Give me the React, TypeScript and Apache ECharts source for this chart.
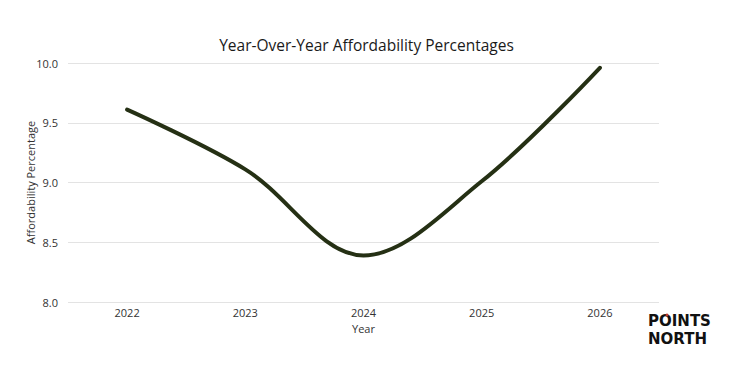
import React, { useEffect, useRef } from "react";
import * as echarts from "echarts";

const years = ["2022", "2023", "2024", "2025", "2026"];
const affordability = [9.61, 9.11, 8.39, 9.01, 9.96];
const yTicks = { min: 8, max: 10, interval: 0.5 };

export default function App() {
  const ref = useRef<HTMLDivElement>(null);
  useEffect(() => {
    const chart = echarts.init(ref.current!, null, { renderer: "svg" });
    const font = "Open Sans";
    chart.setOption({
      animation: false,
      backgroundColor: "#ffffff",
      title: {
        text: "Year-Over-Year Affordability Percentages",
        left: "center",
        top: 32,
        textStyle: { fontFamily: font, fontSize: 15.5, fontWeight: "normal", color: "#1a1a1a" },
      },
      grid: { left: 68, right: 74, top: 63, bottom: 64 },
      xAxis: {
        type: "category",
        data: years,
        name: "Year",
        nameLocation: "middle",
        nameGap: 18,
        nameTextStyle: { fontFamily: font, fontSize: 11, color: "#333" },
        axisLine: { show: false },
        axisTick: { show: false },
        axisLabel: { fontFamily: font, fontSize: 11, color: "#333", margin: 5 },
      },
      yAxis: {
        type: "value",
        min: yTicks.min,
        max: yTicks.max,
        interval: yTicks.interval,
        name: "Affordability Percentage",
        nameLocation: "middle",
        nameGap: 32,
        nameMoveOverlap: false,
        nameTextStyle: { fontFamily: font, fontSize: 11, color: "#333" },
        axisLabel: {
          fontFamily: font,
          fontSize: 11,
          color: "#333",
          margin: 10,
          formatter: (v: number) => v.toFixed(1),
        },
        splitLine: { lineStyle: { color: "#e3e3e3", width: 1 } },
      },
      series: [
        {
          type: "line",
          data: affordability,
          smooth: 0.35,
          symbol: "none",
          lineStyle: { color: "#253014", width: 4, cap: "round" },
        },
      ],
      graphic: [
        {
          type: "text",
          left: 648,
          top: 313,
          style: {
            text: "POINTS",
            fontFamily: "DejaVu Sans",
            fontWeight: "bold",
            fontSize: 15,
            lineHeight: 15,
            fill: "#111",
          },
        },
        {
          type: "text",
          left: 648,
          top: 331,
          style: {
            text: "NORTH",
            fontFamily: "DejaVu Sans",
            fontWeight: "bold",
            fontSize: 15,
            lineHeight: 15,
            fill: "#111",
          },
        },
        {
          type: "circle",
          shape: { cx: 667, cy: 315, r: 1.5 },
          style: { fill: "#c0392b" },
        },
      ],
    });
    return () => chart.dispose();
  }, []);
  return <div ref={ref} style={{ width: 733, height: 366, position: "absolute", left: 0, top: 0 }} />;
}
